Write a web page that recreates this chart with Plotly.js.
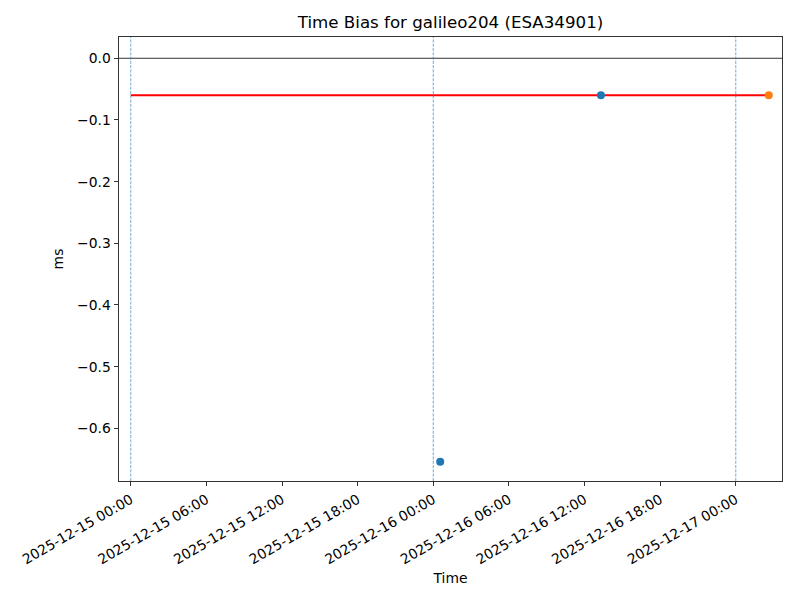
<!DOCTYPE html>
<html>
<head>
<meta charset="utf-8">
<script src="https://cdn.plot.ly/plotly-3.0.1.min.js"></script>
<style>html,body{margin:0;padding:0;background:#fff;}#chart{width:800px;height:600px;}</style>
</head>
<body>
<div id="chart"></div>
<script>
// Data
const blueTimes = ['2025-12-16 00:33', '2025-12-16 13:18'];
const blueValues = [-0.654, -0.060];
const orangeTimes = ['2025-12-17 02:37'];
const orangeValues = [-0.060];
const fitTimes = ['2025-12-15 00:00', '2025-12-17 02:37'];
const fitValues = [-0.06, -0.06];
const dayLines = ['2025-12-15 00:00', '2025-12-16 00:00', '2025-12-17 00:00'];
const zeroLevel = 0;
const xRange = ['2025-12-14 23:04', '2025-12-17 03:40'];
const yRange = [-0.6854, 0.0345];

const font = {family: 'DejaVu Sans', size: 13.89, color: '#000'};

const traces = [
  {x: fitTimes, y: fitValues, mode: 'lines', line: {color: '#ff0000', width: 2}, showlegend: false, hoverinfo: 'skip'},
  {x: blueTimes, y: blueValues, mode: 'markers', marker: {color: '#1f77b4', size: 8}, showlegend: false},
  {x: orangeTimes, y: orangeValues, mode: 'markers', marker: {color: '#ff7f0e', size: 8}, showlegend: false}
];

const shapes = dayLines.map(t => ({
  type: 'line', xref: 'x', yref: 'paper', x0: t, x1: t, y0: 0, y1: 1,
  line: {color: 'rgba(31,119,180,0.9)', width: 0.7, dash: '3px,1.3px'}, layer: 'above'
}));
shapes.unshift({
  type: 'line', xref: 'paper', yref: 'y', x0: 0, x1: 1, y0: zeroLevel, y1: zeroLevel,
  line: {color: '#000', width: 0.8}, layer: 'below'
});

const layout = {
  width: 800, height: 600,
  paper_bgcolor: '#fff', plot_bgcolor: '#fff',
  margin: {l: 118.5, r: 17.5, t: 37, b: 119},
  font: font,
  showlegend: false,
  title: {text: 'Time Bias for galileo204 (ESA34901)', font: {family: 'DejaVu Sans', size: 16.67, color: '#000'},
          xref: 'paper', x: 0.5, xanchor: 'center', yref: 'container', y: 1 - 22/600, yanchor: 'middle'},
  xaxis: {
    type: 'date', range: xRange, autorange: false,
    tick0: '2025-12-15 00:00', dtick: 6*3600*1000, tickformat: '%Y-%m-%d %H:%M',
    tickangle: -30, ticks: 'outside', ticklen: 4.67, tickwidth: 0.8, tickcolor: '#000',
    showgrid: false, zeroline: false, showline: true, linecolor: '#000', linewidth: 0.8, mirror: true,
    tickfont: font,
    title: {text: 'Time', font: font, standoff: 6}
  },
  yaxis: {
    range: yRange, autorange: false, dtick: 0.1, tick0: 0, tickformat: '.1f',
    ticks: 'outside', ticklen: 4.67, tickwidth: 0.8, tickcolor: '#000',
    showgrid: false, zeroline: false, showline: true, linecolor: '#000', linewidth: 0.8, mirror: true,
    tickfont: font,
    title: {text: 'ms', font: font, standoff: 10}
  },
  shapes: shapes
};

Plotly.newPlot('chart', traces, layout, {displayModeBar: false, staticPlot: true});
</script>
</body>
</html>
